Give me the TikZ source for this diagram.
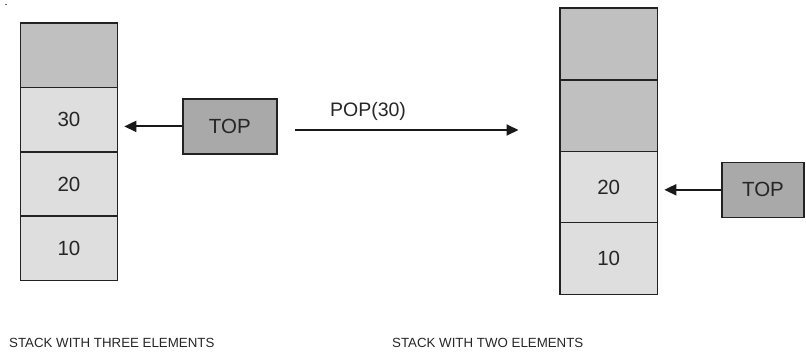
\documentclass[tikz,border=0pt]{standalone}
\usepackage{fontspec}
\setmainfont{Liberation Sans}
\usetikzlibrary{arrows.meta}
\definecolor{emptycell}{HTML}{C0C0C0}
\definecolor{fullcell}{HTML}{DEDEDE}
\definecolor{topfill}{HTML}{A9A9A9}
\definecolor{edge}{HTML}{222222}
\tikzset{
  cellbase/.style={draw=edge, line width=1.5pt, rectangle, inner sep=0pt, text=black!85,
    font=\fontsize{20.5}{23}\selectfont},
  lcell/.style={cellbase, minimum width=97pt, minimum height=64.5pt},
  rcell/.style={cellbase, minimum width=97.3pt, minimum height=71.6pt},
  emptyc/.style={fill=emptycell},
  fullc/.style={fill=fullcell},
  topbox/.style={cellbase, fill=topfill, minimum height=55pt},
  conn/.style={draw=black!90, line width=1.9pt, -{Triangle[length=12pt,width=11pt]}},
  caption/.style={font=\fontsize{13.3}{15}\selectfont, text=black!85, inner sep=0pt, anchor=base west},
  lbl/.style={font=\fontsize{19.5}{22}\selectfont, text=black!85, inner sep=0pt}
}
\begin{document}
\begin{tikzpicture}[x=1pt,y=-1pt]
\useasboundingbox (0,0) rectangle (806,354);
\fill[black!60] (4.5,3.5) rectangle (6.5,5);
% left stack
\node[lcell, emptyc] (l4) at (69,55) {};
\node[lcell, fullc] (l3) at (69,119.5) {30};
\node[lcell, fullc] (l2) at (69,184) {20};
\node[lcell, fullc] (l1) at (69,248.4) {10};
\node[topbox, minimum width=94pt] (topL) at (229.8,126.4) {TOP};
\coordinate (tipL) at (124.3,126.4);
\draw[conn] (topL.west) -- (tipL);
% pop arrow
\coordinate (popS) at (295,130);
\coordinate (popE) at (518.5,130);
\draw[conn] (popS) -- (popE);
\node[lbl] (pop) at (368,111.5) {POP(30)};
% right stack
\node[rcell, emptyc] (r4) at (608.7,44) {};
\node[rcell, emptyc] (r3) at (608.7,115.9) {};
\node[rcell, fullc] (r2) at (608.7,187.2) {20};
\node[rcell, fullc] (r1) at (608.7,258.5) {10};
\node[topbox, minimum width=82pt] (topR) at (763,189.8) {TOP};
\coordinate (tipR) at (664.3,189.8);
\draw[conn] (topR.west) -- (tipR);
% captions
\node[caption] (capL) at (9,347) {STACK WITH THREE ELEMENTS};
\node[caption] (capR) at (392,347) {STACK WITH TWO ELEMENTS};
\end{tikzpicture}
\end{document}
